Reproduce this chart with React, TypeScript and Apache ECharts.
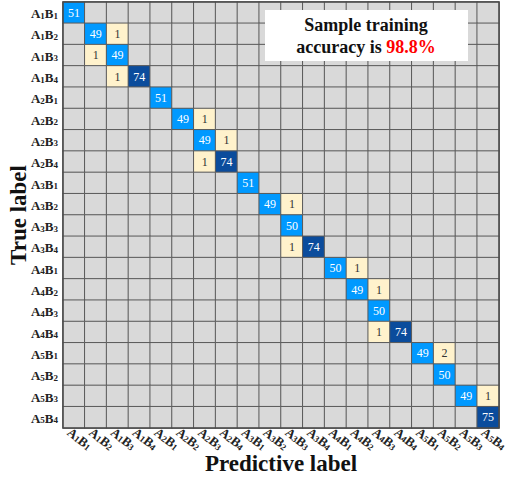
import React, { useEffect, useRef } from "react";
import * as echarts from "echarts";

const aIdx = ["1", "2", "3", "4", "5"];
const bIdx = ["1", "2", "3", "4"];
const categories: string[] = [];
aIdx.forEach((a) => bIdx.forEach((b) => categories.push(`A${a}B${b}`)));

// nonzero cells: [trueRow, predictedCol, count]
const nonZero: [number, number, number][] = [
  [0, 0, 51],
  [1, 1, 49], [1, 2, 1],
  [2, 1, 1], [2, 2, 49],
  [3, 2, 1], [3, 3, 74],
  [4, 4, 51],
  [5, 5, 49], [5, 6, 1],
  [6, 6, 49], [6, 7, 1],
  [7, 6, 1], [7, 7, 74],
  [8, 8, 51],
  [9, 9, 49], [9, 10, 1],
  [10, 10, 50],
  [11, 10, 1], [11, 11, 74],
  [12, 12, 50], [12, 13, 1],
  [13, 13, 49], [13, 14, 1],
  [14, 14, 50],
  [15, 14, 1], [15, 15, 74],
  [16, 16, 49], [16, 17, 2],
  [17, 17, 50],
  [18, 18, 49], [18, 19, 1],
  [19, 19, 75],
];

const accuracyText = "98.8%";

const SERIF = "'Liberation Serif', 'Times New Roman', serif";

const labelFmt = (v: string) => {
  const m = v.match(/A(\d)B(\d)/);
  if (!m) return v;
  return `{a|A}{s|${m[1]}}{a|B}{s|${m[2]}}`;
};

export default function App() {
  const ref = useRef<HTMLDivElement>(null);
  useEffect(() => {
    if (!ref.current) return;
    const chart = echarts.init(ref.current, undefined, { renderer: "svg" });
    const data: any[] = [];
    for (let r = 0; r < 20; r++) {
      for (let c = 0; c < 20; c++) {
        const f = nonZero.find((d) => d[0] === r && d[1] === c);
        const v = f ? f[2] : 0;
        data.push({
          value: [c, r, v],
          label: { color: v > 0 && v < 10 ? "#333" : "#ffffff" },
        });
      }
    }
    const rich = {
      a: { fontFamily: SERIF, fontWeight: "bold", fontSize: 13, color: "#222", verticalAlign: "bottom", lineHeight: 15 },
      s: { fontFamily: SERIF, fontWeight: "bold", fontSize: 9, color: "#222", verticalAlign: "bottom", lineHeight: 11 },
    };
    chart.setOption({
      animation: false,
      backgroundColor: "#ffffff",
      grid: { left: 63, top: 2, width: 436, height: 426, containLabel: false, outerBoundsMode: "none" },
      xAxis: {
        type: "category",
        data: categories,
        position: "bottom",
        axisLine: { show: false },
        axisTick: { show: false },
        splitArea: { show: false },
        axisLabel: {
          interval: 0,
          rotate: -38,
          margin: 5,
          align: "center",
          verticalAlign: "middle",
          padding: [0, 0, 0, 16],
          fontFamily: SERIF,
          fontSize: 13,
          fontWeight: "bold",
          color: "#222",
          formatter: labelFmt,
          rich,
        },
        name: "Predictive label",
        nameLocation: "middle",
        nameGap: 24,
        nameMoveOverlap: false,
        nameTextStyle: { fontFamily: SERIF, fontWeight: "bold", fontSize: 23, color: "#111" },
      },
      yAxis: {
        type: "category",
        data: categories,
        inverse: true,
        axisLine: { show: false },
        axisTick: { show: false },
        axisLabel: {
          interval: 0,
          margin: 5,
          fontFamily: SERIF,
          fontSize: 13,
          fontWeight: "bold",
          color: "#222",
          formatter: labelFmt,
          rich,
        },
        name: "True label",
        nameLocation: "middle",
        nameGap: 33,
        nameRotate: 90,
        nameMoveOverlap: false,
        nameTextStyle: { fontFamily: SERIF, fontWeight: "bold", fontSize: 23, color: "#111" },
      },
      visualMap: {
        show: false,
        type: "piecewise",
        dimension: 2,
        seriesIndex: 0,
        pieces: [
          { value: 0, color: "#d9d9d9" },
          { min: 1, max: 10, color: "#fff2cc" },
          { min: 11, max: 60, color: "#0099ff" },
          { min: 61, max: 100, color: "#0b4c9c" },
        ],
      },
      series: [
        {
          type: "heatmap",
          data,
          itemStyle: { borderColor: "#5a5a5a", borderWidth: 1 },
          label: {
            show: true,
            fontFamily: SERIF,
            fontSize: 12,
            formatter: (p: any) => (p.value[2] === 0 ? "" : String(p.value[2])),
          },
          emphasis: { disabled: true },
        },
      ],
      graphic: [
        {
          type: "rect",
          shape: { x: 63, y: 2, width: 436, height: 426 },
          style: { fill: "none", stroke: "#4a4a4a", lineWidth: 1.5 },
          z: 100,
        },
        {
          type: "rect",
          shape: { x: 265, y: 10, width: 203, height: 51 },
          style: { fill: "#ffffff" },
          z: 100,
        },
        {
          type: "text",
          x: 366,
          y: 36,
          z: 101,
          style: {
            text: `{t|Sample training}\n{t|accuracy is }{r|${accuracyText}}`,
            align: "center",
            verticalAlign: "middle",
            fontFamily: SERIF,
            fontWeight: "bold",
            fontSize: 18,
            rich: {
              t: { fontFamily: SERIF, fontWeight: "bold", fontSize: 18, fill: "#111", lineHeight: 22 },
              r: { fontFamily: SERIF, fontWeight: "bold", fontSize: 18, fill: "#ff0000", lineHeight: 22 },
            },
          },
        },
      ],
    });
    return () => chart.dispose();
  }, []);
  return (
    <div
      ref={ref}
      style={{ position: "absolute", left: 0, top: 0, width: 505, height: 478 }}
    />
  );
}
